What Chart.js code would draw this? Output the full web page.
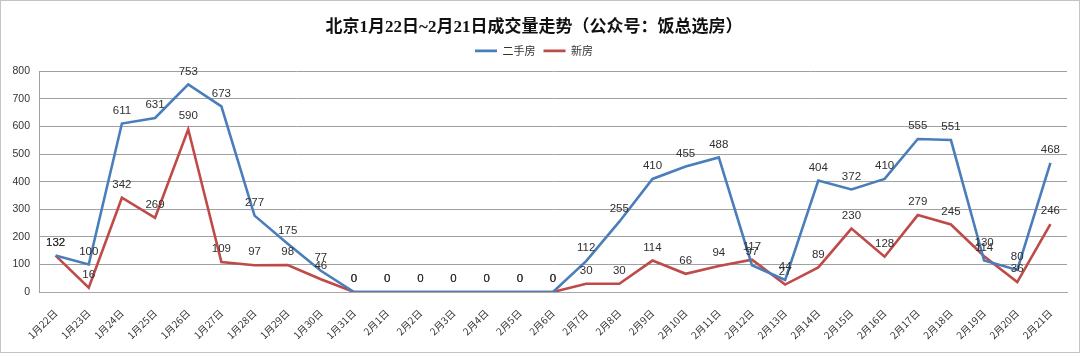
<!DOCTYPE html>
<html>
<head>
<meta charset="utf-8">
<script src="https://cdn.jsdelivr.net/npm/chart.js@4/dist/chart.umd.min.js"></script>
<style>
html,body{margin:0;padding:0;background:#fff;}
#wrap{width:1080px;height:353px;box-sizing:border-box;border:1px solid #c4c4c4;background:#fff;}
canvas{display:block;}
</style>
</head>
<body>
<div id="wrap"><canvas id="c" width="1078" height="351"></canvas></div>
<script>
const categories = ["1月22日","1月23日","1月24日","1月25日","1月26日","1月27日","1月28日","1月29日","1月30日","1月31日",
  "2月1日","2月2日","2月3日","2月4日","2月5日","2月6日","2月7日","2月8日","2月9日","2月10日",
  "2月11日","2月12日","2月13日","2月14日","2月15日","2月16日","2月17日","2月18日","2月19日","2月20日","2月21日"];
const secondHand = [132,100,611,631,753,673,277,175,77,0, 0,0,0,0,0,0,112,255,410,455, 488,97,44,404,372,410,555,551,114,80,468];
const newHomes   = [132,16,342,269,590,109,97,98,46,0, 0,0,0,0,0,0,30,30,114,66, 94,117,27,89,230,128,279,245,130,36,246];
const seriesNames = ["二手房","新房"];
const titleText = "北京1月22日~2月21日成交量走势（公众号：饭总选房）";
const yMin = 0, yMax = 800, yStep = 100;

const BLUE = "#4a7ebb";
const RED = "#be4b48";

const spacerPlugin = {
  id: 'spacer',
  beforeInit(chart) {
    const box = {
      position: 'top', weight: -10, fullSize: true, options: {},
      width: 0, height: 0, left: 0, top: 0, right: 0, bottom: 0,
      isHorizontal() { return true; },
      update(maxWidth) { this.width = maxWidth; this.height = 5; return {}; },
      draw() {}
    };
    Chart.layouts.addBox(chart, box);
  }
};

const valueLabels = {
  id: 'valueLabels',
  afterDatasetsDraw(chart) {
    const ctx = chart.ctx;
    ctx.save();
    ctx.font = '11.5px "Liberation Sans", Arial, sans-serif';
    ctx.fillStyle = '#303030';
    ctx.textAlign = 'center';
    ctx.textBaseline = 'middle';
    chart.data.datasets.forEach((ds, di) => {
      const meta = chart.getDatasetMeta(di);
      meta.data.forEach((pt, i) => {
        ctx.fillText(String(ds.data[i]), pt.x, pt.y - 13);
      });
    });
    ctx.restore();
  }
};

new Chart(document.getElementById('c'), {
  type: 'line',
  data: {
    labels: categories,
    datasets: [
      { label: seriesNames[0], data: secondHand, borderColor: BLUE, backgroundColor: BLUE, borderWidth: 2.6, pointRadius: 0, tension: 0, fill: false },
      { label: seriesNames[1], data: newHomes, borderColor: RED, backgroundColor: RED, borderWidth: 2.6, pointRadius: 0, tension: 0, fill: false }
    ]
  },
  options: {
    responsive: false,
    animation: false,
    layout: { padding: { left: 0, right: 12, top: 0, bottom: 0 } },
    plugins: {
      title: {
        display: true,
        text: titleText,
        color: '#111',
        font: { family: '"Liberation Serif", "Noto Sans CJK SC", serif', size: 17, weight: 'bold', lineHeight: 1.2 },
        padding: { top: 16, bottom: 0 }
      },
      legend: {
        display: true,
        labels: {
          usePointStyle: true,
          pointStyle: 'line',
          pointStyleWidth: 22,
          padding: 8,
          color: '#333',
          font: { family: '"Noto Sans CJK SC", sans-serif', size: 11 }
        }
      },
      tooltip: { enabled: false }
    },
    scales: {
      x: {
        offset: true,
        grid: { display: false, drawTicks: false },
        border: { display: true, color: '#a8a8a8', width: 1 },
        ticks: {
          autoSkip: false, maxRotation: 45, minRotation: 45, padding: 15,
          color: '#333',
          font: { family: '"Noto Sans CJK SC", sans-serif', size: 10 }
        },
        afterFit(scale) { scale.height = 60; }
      },
      y: {
        min: yMin, max: yMax,
        grid: { color: '#a0a0a0', lineWidth: 1, drawTicks: false },
        border: { display: true, color: '#a0a0a0', width: 1 },
        ticks: {
          stepSize: yStep, padding: 9, color: '#333',
          font: { family: '"Liberation Sans", Arial, sans-serif', size: 10.5 }
        },
        afterFit(scale) { scale.width = 38; }
      }
    }
  },
  plugins: [spacerPlugin, valueLabels]
});
</script>
</body>
</html>
